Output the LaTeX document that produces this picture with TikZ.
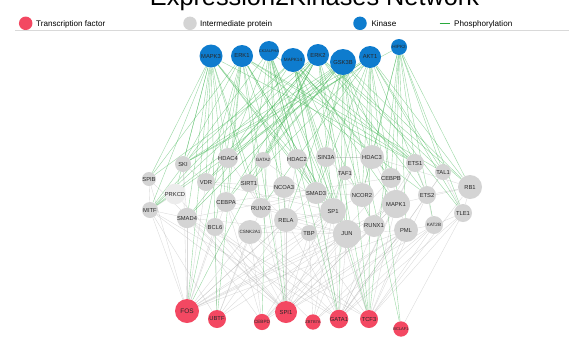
\documentclass[tikz,border=0pt]{standalone}
\usepackage{fontspec}
\setmainfont{Liberation Sans}
\usetikzlibrary{backgrounds}
\definecolor{tfred}{RGB}{243,72,98}
\definecolor{kinblue}{RGB}{14,124,206}
\definecolor{midgray}{RGB}{212,212,212}
\definecolor{faintgray}{RGB}{236,236,236}
\definecolor{phos}{RGB}{50,175,70}
\definecolor{legphos}{RGB}{40,170,60}
\definecolor{lbl}{RGB}{40,40,40}
\begin{document}
\begin{tikzpicture}[x=1pt,y=-1pt,
  base/.style={circle,inner sep=0pt,text=lbl,font=\fontsize{5.8}{6}\selectfont},
  tf/.style={base,fill=tfred},
  mid/.style={base,fill=midgray},
  kin/.style={base,fill=kinblue},
  rad/.style={minimum size=2*#1pt},
  small/.style={font=\fontsize{4.6}{5}\selectfont},
  phosedge/.style={draw=phos,opacity=0.5,line width=0.4pt},
  grayedge/.style={draw=black!30,opacity=0.5,line width=0.35pt},
  legdot/.style={circle,minimum size=13.5pt,inner sep=0pt},
  legtext/.style={anchor=base west,inner sep=0pt,font=\fontsize{8.1}{9}\selectfont,text=black}]
\useasboundingbox (0,0) rectangle (569,338);
\clip (0,0) rectangle (569,338);

% title (cut off at top)
\node[anchor=base,inner sep=0pt,font=\fontsize{25.3}{30}\selectfont] (title) at (314.5,5) {Expression2Kinases Network};

% legend
\node[legdot,fill=tfred] (lgtf) at (25.7,23.3) {};
\node[legtext] (lgtft) at (36,26.6) {Transcription factor};
\node[legdot,fill=midgray] (lgmid) at (190,23.3) {};
\node[legtext] (lgmidt) at (200,26.6) {Intermediate protein};
\node[legdot,fill=kinblue] (lgkin) at (360,23.3) {};
\node[legtext] (lgkint) at (371.3,26.6) {Kinase};
\coordinate (lgpa) at (439.7,23.3);
\coordinate (lgpb) at (449.7,23.3);
\draw[legphos,line width=1.4pt] (lgpa) -- (lgpb);
\node[legtext] (lgpt) at (454,26.6) {Phosphorylation};
\coordinate (sepa) at (15,30.7);
\coordinate (sepb) at (569,30.7);
\draw[black!15,line width=0.6pt] (sepa) -- (sepb);

% kinases
\node[kin,rad=11.5] (MAPK3) at (211,56) {MAPK3};
\node[kin,rad=11] (ERK1) at (242,56) {ERK1};
\node[kin,rad=10,font=\fontsize{3.8}{4}\selectfont] (CKA) at (269,51) {CK2ALPHA};
\node[kin,rad=12,small] (MAPK14) at (293,60) {MAPK14};
\node[kin,rad=11] (ERK2) at (318,55) {ERK2};
\node[kin,rad=13] (GSK3B) at (343,62) {GSK3B};
\node[kin,rad=11] (AKT1) at (370,57) {AKT1};
\node[kin,rad=8,small] (HIPK2) at (399,47) {HIPK2};

% intermediate proteins
\node[mid,rad=8] (SKI) at (183,164) {SKI};
\node[mid,rad=10] (HDAC4) at (228,158) {HDAC4};
\node[mid,rad=8,small] (GATA2) at (263,160) {GATA2};
\node[mid,rad=10] (HDAC2) at (297,159) {HDAC2};
\node[mid,rad=10] (SIN3A) at (326,157) {SIN3A};
\node[mid,rad=12] (HDAC3) at (372,157) {HDAC3};
\node[mid,rad=9] (ETS1) at (415,163) {ETS1};
\node[mid,rad=8] (TAL1) at (443,172) {TAL1};
\node[mid,rad=7] (SPIB) at (149,179) {SPIB};
\node[mid,rad=9] (VDR) at (206,182) {VDR};
\node[mid,rad=9] (SIRT1) at (249,183) {SIRT1};
\node[mid,rad=7] (TAF1) at (345,173) {TAF1};
\node[mid,rad=10] (CEBPB) at (391,178) {CEBPB};
\node[mid,rad=12] (RB1) at (470,187) {RB1};
\node[base,fill=faintgray,rad=7] (PRKCD) at (175,194) {PRKCD};
\node[mid,rad=11] (NCOA3) at (284,187) {NCOA3};
\node[mid,rad=11] (SMAD3) at (316,193) {SMAD3};
\node[mid,rad=12] (NCOR2) at (362,195) {NCOR2};
\node[mid,rad=9] (ETS2) at (427,195) {ETS2};
\node[mid,rad=8] (MITF) at (150,210) {MITF};
\node[mid,rad=10] (CEBPA) at (226,202) {CEBPA};
\node[mid,rad=14] (MAPK1) at (396,204) {MAPK1};
\node[mid,rad=9] (TLE1) at (463,213) {TLE1};
\node[mid,rad=10] (SMAD4) at (187,218) {SMAD4};
\node[mid,rad=10] (RUNX2) at (261,208) {RUNX2};
\node[mid,rad=13] (SP1) at (333,211) {SP1};
\node[mid,rad=9,small] (KAT2B) at (434,225) {KAT2B};
\node[mid,rad=9] (BCL6) at (215,227) {BCL6};
\node[mid,rad=12] (RELA) at (286,220) {RELA};
\node[mid,rad=11] (RUNX1) at (374,226) {RUNX1};
\node[mid,rad=12] (PML) at (406,230) {PML};
\node[mid,rad=12,small] (CSNK2A1) at (250,232) {CSNK2A1};
\node[mid,rad=8] (TBP) at (309,233) {TBP};
\node[mid,rad=14] (JUN) at (347,234) {JUN};

% transcription factors
\node[tf,rad=12,font=\fontsize{6.5}{7}\selectfont] (FOS) at (187,311) {FOS};
\node[tf,rad=9] (UBTF) at (217,319) {UBTF};
\node[tf,rad=8,small] (CEBPD) at (262,322) {CEBPD};
\node[tf,rad=11] (SPI1) at (286,312) {SPI1};
\node[tf,rad=7,font=\fontsize{4}{4}\selectfont] (ZBTB7A) at (313,322) {ZBTB7A};
\node[tf,rad=9] (GATA1) at (339,319) {GATA1};
\node[tf,rad=9] (TCF3) at (369,319) {TCF3};
\node[tf,rad=6,font=\fontsize{4}{4}\selectfont] (BCLAF1) at (401,329) {BCLAF1};

\begin{pgfonlayer}{background}
% protein-protein interactions
\foreach \a/\b in {SPIB/SPI1,MITF/FOS,MITF/UBTF,MITF/SPI1,SMAD4/FOS,SMAD4/JUN,SMAD4/SMAD3,
  BCL6/FOS,BCL6/UBTF,CEBPA/SPI1,CEBPA/CEBPB,CEBPA/CEBPD,CSNK2A1/JUN,CSNK2A1/SP1,CSNK2A1/GATA1,
  CSNK2A1/FOS,RELA/SP1,RELA/JUN,RELA/FOS,RELA/SPI1,RELA/TBP,TBP/SPI1,TBP/GATA1,TBP/TCF3,
  JUN/FOS,JUN/SPI1,JUN/GATA1,JUN/UBTF,SP1/GATA1,SP1/SPI1,SP1/UBTF,SP1/FOS,SP1/TCF3,
  RUNX1/SPI1,RUNX1/CEBPD,RUNX1/GATA1,PML/GATA1,PML/TCF3,PML/SPI1,KAT2B/TCF3,KAT2B/GATA1,
  MAPK1/FOS,MAPK1/SPI1,MAPK1/ETS1,TLE1/TCF3,TLE1/BCLAF1,RB1/MAPK1,RB1/ETS2,RB1/HDAC3,
  ETS2/KAT2B,NCOR2/SMAD3,NCOR2/HDAC3,NCOR2/SP1,NCOR2/RUNX1,HDAC2/SIN3A,HDAC2/SP1,HDAC2/RELA,
  SIN3A/HDAC3,HDAC4/RUNX2,HDAC4/VDR,VDR/NCOA3,VDR/SP1,NCOA3/SMAD3,NCOA3/RELA,SIRT1/RUNX2,
  SIRT1/RELA,GATA2/SP1,GATA2/SPI1,TAF1/TBP,TAF1/SP1,CEBPB/RUNX1,CEBPB/CEBPD,CEBPB/PML,
  SMAD3/JUN,SMAD3/RUNX2,SMAD3/FOS,RUNX2/SPI1,RUNX2/UBTF,TAL1/GATA1,TAL1/ETS2,ETS1/GATA1,
  ETS1/RUNX1,PRKCD/MITF,PRKCD/SPI1,SPIB/MITF,SKI/SMAD4,SKI/VDR,MITF/SMAD4,KAT2B/ZBTB7A,
  PML/ZBTB7A,SP1/ZBTB7A,JUN/CEBPD,RELA/UBTF,CSNK2A1/UBTF,BCL6/ZBTB7A,MAPK1/JUN,MAPK1/GATA1,
  PML/JUN,RUNX1/FOS,SMAD4/SPI1,CEBPA/RUNX1,RB1/TLE1,TLE1/KAT2B,HDAC3/CEBPB,ETS2/TCF3,
  MITF/GATA1,SMAD4/TCF3,BCL6/SPI1,CSNK2A1/TCF3,TBP/FOS,PML/FOS,
  HDAC2/SMAD3,SIN3A/NCOR2,HDAC3/MAPK1,ETS1/ETS2,TAL1/TLE1,KAT2B/PML,RUNX1/MAPK1,
  SMAD4/CEBPD,BCL6/GATA1,CEBPA/FOS,VDR/FOS,RUNX2/JUN,NCOA3/SPI1,SMAD3/GATA1,TBP/ZBTB7A,
  JUN/TCF3,JUN/ZBTB7A,SP1/CEBPD,RELA/GATA1,MAPK1/TCF3,ETS2/GATA1,RB1/TCF3,TLE1/GATA1,
  PML/CEBPD,KAT2B/SPI1,CSNK2A1/CEBPD,SKI/FOS,SPIB/FOS}
  {\draw[grayedge] (\a) -- (\b);}
% phosphorylation
\foreach \k/\ts in {
  MAPK3/{SKI,SPIB,MITF,VDR,HDAC4,CEBPA,SMAD4,RUNX2,SIRT1,FOS,UBTF,ETS1,SP1,JUN,HDAC2,PRKCD},
  ERK1/{SPIB,SKI,VDR,CEBPA,BCL6,SP1,JUN,ETS1,ETS2,FOS,UBTF,SPI1,RUNX2,NCOA3,SMAD3,TAL1},
  CKA/{HDAC4,SIRT1,SP1,JUN,RELA,SMAD3,TBP,ETS1,CEBPD,GATA1,SPI1,HDAC2,MITF},
  MAPK14/{MITF,SKI,CEBPB,ETS1,SP1,JUN,SMAD3,MAPK1,GATA1,TCF3,RUNX1,HDAC3,SIN3A,HDAC4},
  ERK2/{SPIB,MITF,VDR,SIRT1,GATA2,CEBPA,SP1,JUN,ETS1,ETS2,TAL1,RB1,FOS,TCF3,SMAD4,NCOR2,HDAC4},
  GSK3B/{SKI,VDR,CEBPA,SMAD4,JUN,SMAD3,RELA,NCOR2,CEBPB,RB1,TLE1,TCF3,GATA1,BCLAF1,HDAC3,SIN3A,GATA2,MITF},
  AKT1/{MITF,SKI,SIRT1,HDAC4,HDAC3,RB1,TLE1,TAL1,CEBPB,ETS2,SP1,TCF3,BCLAF1,NCOR2,SMAD3,RUNX2},
  HIPK2/{RB1,TLE1,TAL1,ETS1,CEBPB,HDAC3,PML,MAPK1,KAT2B,SKI,NCOR2,TCF3}}
  {\foreach \t in \ts {\draw[phosedge] (\k) -- (\t);}}
\end{pgfonlayer}
\end{tikzpicture}
\end{document}
